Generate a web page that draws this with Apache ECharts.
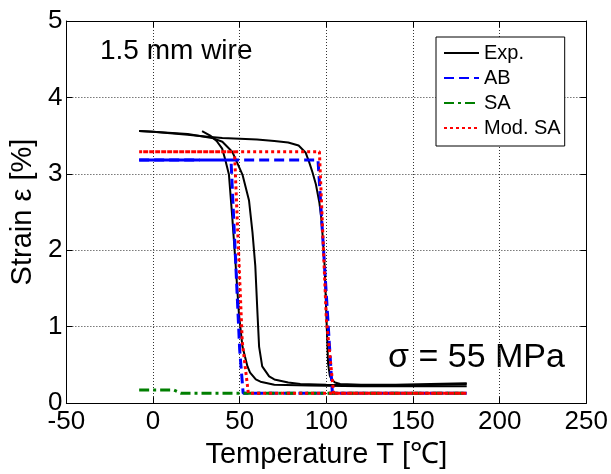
<!DOCTYPE html>
<html>
<head>
<meta charset="utf-8">
<script src="https://cdn.jsdelivr.net/npm/echarts@6/dist/echarts.min.js"></script>
<style>html,body{margin:0;padding:0;background:#fff}#c{width:611px;height:474px}</style>
</head>
<body>
<div id="c"></div>
<script>
// Axis ticks
const xTicks = [-50, 0, 50, 100, 150, 200, 250];
const yTicks = [0, 1, 2, 3, 4, 5];

// Experimental: heating branch [T, strain]
const expHeating = [[-8,3.56],[0,3.55],[10,3.53],[20,3.51],[30,3.49],[40,3.47],[50,3.46],[60,3.45],[70,3.43],[78,3.41],[84,3.37],[88,3.28],[90,3.16],[92,3.02],[94,2.86],[96,2.62],[97,2.44],[98,2.15],[99,1.8],[100,1.16],[101,0.52],[102,0.36],[103,0.31],[105,0.27],[108,0.25],[120,0.24],[140,0.24],[160,0.25],[181,0.26]];
// Experimental: cooling branch 1 (transforms near 59 °C)
const expCooling1 = [[181,0.25],[150,0.23],[120,0.23],[100,0.24],[85,0.25],[78,0.27],[70,0.31],[67,0.35],[63,0.48],[61.2,0.74],[60.3,1.16],[59,1.8],[57.4,2.23],[55.4,2.65],[51.6,2.99],[45.7,3.29],[40,3.42],[34,3.47],[20,3.52],[0,3.55],[-8,3.56]];
// Experimental: cooling branch 2 (transforms near 48 °C)
const expCooling2 = [[181,0.22],[120,0.22],[90,0.23],[70,0.24],[62,0.28],[59.3,0.31],[56,0.4],[54.5,0.48],[51.6,0.74],[49.6,1.16],[47.7,1.8],[45.7,2.44],[43.8,2.99],[41.5,3.2],[39.9,3.33],[36.7,3.43],[33,3.5],[28.3,3.56]];
// AB model loop
const abLoop = [[-8,3.18],[95.2,3.18],[103.5,0.13],[181,0.13],[52,0.13],[50,0.7],[45,3.18],[27,3.18]];
const abTail = [[-8,3.18],[27,3.18]];
// SA model
const saModel = [[-8,0.17],[12,0.17],[16,0.13],[181,0.13]];
// Modified SA model loop
const modSaLoop = [[-8,3.29],[96,3.29],[100,1.1],[104.2,0.13],[181,0.13],[55,0.13],[51.5,0.8],[47,3.29],[-8,3.29]];

const FONT = '"Liberation Sans", Arial, Helvetica, sans-serif';
const chart = echarts.init(document.getElementById('c'), null, {renderer: 'canvas'});

function lineSeries(name, data, color, width, type, extra) {
  return Object.assign({
    name: name, type: 'line', data: data, showSymbol: false, symbol: 'none',
    xAxisIndex: 0, yAxisIndex: 0, animation: false, smooth: false,
    lineStyle: {color: color, width: width, type: type},
    itemStyle: {color: color}
  }, extra || {});
}

const gridLine = {show: true, lineStyle: {color: '#333', width: 1, type: [1, 2]}};

chart.setOption({
  backgroundColor: '#fff',
  animation: false,
  grid: {left: 66, right: 24, top: 21, bottom: 64, containLabel: false},
  xAxis: [{
    type: 'value', min: xTicks[0], max: xTicks[xTicks.length - 1], interval: 50,
    position: 'bottom',
    name: 'Temperature T [℃]', nameLocation: 'middle', nameGap: 29,
    nameTextStyle: {fontFamily: FONT, fontSize: 29, color: '#000'},
    axisLine: {onZero: false, lineStyle: {color: '#000', width: 1}},
    axisTick: {inside: true, length: 6, lineStyle: {color: '#000'}},
    axisLabel: {fontFamily: FONT, fontSize: 26, color: '#000', margin: 6},
    splitLine: gridLine
  }, {
    type: 'value', min: xTicks[0], max: xTicks[xTicks.length - 1], interval: 50,
    position: 'top',
    axisLine: {onZero: false, lineStyle: {color: '#000', width: 1}},
    axisTick: {inside: true, length: 6, lineStyle: {color: '#000'}},
    axisLabel: {show: false}, splitLine: {show: false}
  }],
  yAxis: [{
    type: 'value', min: yTicks[0], max: yTicks[yTicks.length - 1], interval: 1,
    position: 'left',
    name: 'Strain ε [%]', nameLocation: 'middle', nameGap: 22,
    nameTextStyle: {fontFamily: FONT, fontSize: 29, color: '#000'},
    axisLine: {show: true, onZero: false, lineStyle: {color: '#000', width: 1}},
    axisTick: {show: true, inside: true, length: 6, lineStyle: {color: '#000'}},
    axisLabel: {fontFamily: FONT, fontSize: 26, color: '#000', margin: 4},
    splitLine: gridLine
  }, {
    type: 'value', min: yTicks[0], max: yTicks[yTicks.length - 1], interval: 1,
    position: 'right',
    axisLine: {show: true, onZero: false, lineStyle: {color: '#000', width: 1}},
    axisTick: {show: true, inside: true, length: 6, lineStyle: {color: '#000'}},
    axisLabel: {show: false}, splitLine: {show: false}
  }],
  legend: {
    data: ['Exp.', 'AB', 'SA', 'Mod. SA'],
    orient: 'vertical', left: 436, top: 37,
    backgroundColor: '#fff', borderColor: '#000', borderWidth: 1, borderRadius: 0,
    padding: [6, 4, 8, 7],
    itemWidth: 35, itemHeight: 14, itemGap: 5,
    itemStyle: {opacity: 0},
    textStyle: {fontFamily: FONT, fontSize: 20, color: '#000', lineHeight: 20, padding: [0, 0, 0, 0]},
    selectedMode: false
  },
  graphic: [
    {type: 'text', left: 100, top: 37, style: {text: '1.5 mm wire', font: '28px ' + FONT, fill: '#000'}},
    {type: 'text', left: 388, top: 341, style: {text: 'σ = 55 MPa', font: '34px ' + FONT, fill: '#000'}}
  ],
  series: [
    lineSeries('Exp.', expHeating, '#000', 2, 'solid'),
    lineSeries('Exp.', expCooling1, '#000', 2, 'solid'),
    lineSeries('Exp.', expCooling2, '#000', 2, 'solid'),
    lineSeries('AB', abLoop, '#0000ff', 3, [10, 5]),
    lineSeries('AB', abTail, '#0000ff', 3, 'solid'),
    lineSeries('SA', saModel, '#007f00', 3, [10, 4, 3, 4]),
    lineSeries('Mod. SA', modSaLoop, '#ff0000', 3, [3, 3])
  ]
});
</script>
</body>
</html>
